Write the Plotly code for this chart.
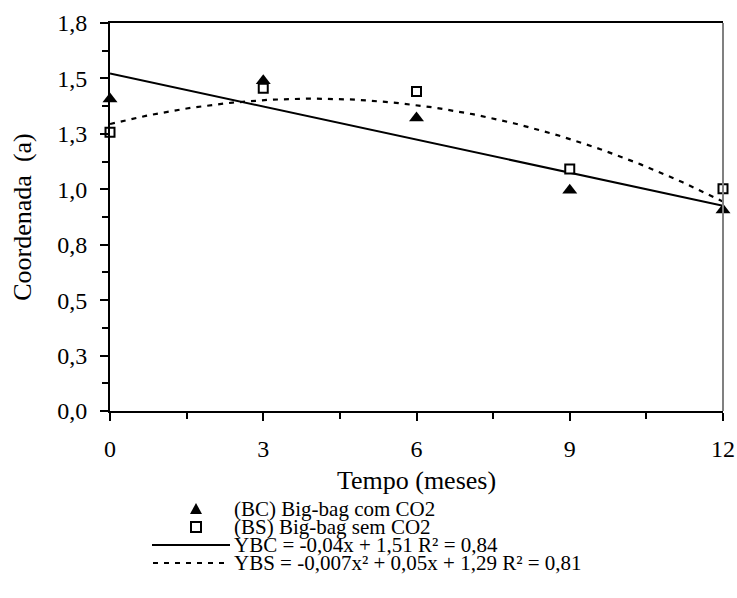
import numpy as np
import plotly.graph_objects as go

# ---- data ----
months = [0, 3, 6, 9, 12]
bc_values = [1.407, 1.489, 1.321, 0.996, 0.907]   # (BC) Big-bag com CO2
bs_values = [1.257, 1.456, 1.441, 1.091, 1.002]   # (BS) Big-bag sem CO2

x_ticks = [0, 3, 6, 9, 12]
x_tick_labels = ["0", "3", "6", "9", "12"]
y_ticks = [0, 0.25, 0.5, 0.75, 1.0, 1.25, 1.5, 1.75]
y_tick_labels = ["0,0", "0,3", "0,5", "0,8", "1,0", "1,3", "1,5", "1,8"]

legend_labels = [
    "(BC) Big-bag com CO2",
    "(BS) Big-bag sem CO2",
    "YBC = -0,04x + 1,51 R² = 0,84",
    "YBS = -0,007x² + 0,05x + 1,29 R² = 0,81",
]
x_title = "Tempo (meses)"
y_title = "Coordenada\u00a0 (a)"

# ---- trend lines fitted to the data ----
bc_fit = np.polyfit(months, bc_values, 1)
bs_fit = np.polyfit(months, bs_values, 2)
x_fine = np.linspace(min(months), max(months), 121)

FONT = "'Liberation Serif', 'Times New Roman', Tinos, 'DejaVu Serif', serif"

fig = go.Figure()
fig.add_trace(go.Scatter(x=x_fine, y=np.polyval(bc_fit, x_fine), mode="lines",
                         line=dict(color="black", width=2), name=legend_labels[2],
                         showlegend=False, cliponaxis=False))
fig.add_trace(go.Scatter(x=x_fine, y=np.polyval(bs_fit, x_fine), mode="lines",
                         line=dict(color="black", width=2.2, dash="5px,6px"),
                         name=legend_labels[3], showlegend=False, cliponaxis=False))
fig.add_trace(go.Scatter(x=months, y=bs_values, mode="markers", name=legend_labels[1],
                         marker=dict(symbol="square", size=9, color="white",
                                     line=dict(color="black", width=2)),
                         showlegend=False, cliponaxis=False))
fig.add_trace(go.Scatter(x=months, y=bc_values, mode="markers", name=legend_labels[0],
                         marker=dict(symbol="triangle-up", size=13, color="black",
                                     line=dict(width=0)),
                         showlegend=False, cliponaxis=False))

# ---- layout geometry (pixels) ----
W, H = 737, 598
ML, MR, MT, MB = 110, 14, 23, 187
PW, PH = W - ML - MR, H - MT - MB


def px_x(px):
    return (px - ML) / PW


def px_y(py):
    return (H - MB - py) / PH


shapes = [
    # right frame line (grey)
    dict(type="line", xref="paper", yref="paper", x0=1, x1=1, y0=0, y1=1,
         line=dict(color="#808080", width=2)),
]

# legend (drawn manually below the chart)
leg_rows = [509, 527, 545, 563]
sample_cx = 196
text_x = 232
annotations = []
for lbl, ry in zip(legend_labels, leg_rows):
    annotations.append(dict(x=px_x(text_x), y=px_y(ry), xref="paper", yref="paper",
                            text=lbl, showarrow=False, xanchor="left", yanchor="middle",
                            font=dict(family=FONT, size=21, color="black")))

# triangle sample
shapes.append(dict(type="path", xref="paper", yref="paper",
                   xsizemode="pixel", ysizemode="pixel",
                   xanchor=px_x(sample_cx), yanchor=px_y(leg_rows[0]),
                   path="M-6,-5 L6,-5 L0,6 Z", fillcolor="black",
                   line=dict(width=0)))
# square sample
shapes.append(dict(type="rect", xref="paper", yref="paper",
                   xsizemode="pixel", ysizemode="pixel",
                   xanchor=px_x(sample_cx), yanchor=px_y(leg_rows[1]),
                   x0=-5, x1=5, y0=-5, y1=5, fillcolor="white",
                   line=dict(color="black", width=2)))
# solid line sample
shapes.append(dict(type="line", xref="paper", yref="paper",
                   x0=px_x(152), x1=px_x(230), y0=px_y(leg_rows[2]), y1=px_y(leg_rows[2]),
                   line=dict(color="black", width=2)))
# dashed line sample
shapes.append(dict(type="line", xref="paper", yref="paper",
                   x0=px_x(153), x1=px_x(228), y0=px_y(leg_rows[3]), y1=px_y(leg_rows[3]),
                   line=dict(color="black", width=2, dash="5px,6px")))

fig.update_layout(
    width=W, height=H, autosize=False,
    margin=dict(l=ML, r=MR, t=MT, b=MB, pad=0),
    paper_bgcolor="white", plot_bgcolor="white",
    font=dict(family=FONT, color="black"),
    showlegend=False,
    shapes=shapes,
    annotations=annotations,
    xaxis=dict(
        range=[0, 12], tickvals=x_ticks, ticktext=x_tick_labels,
        showgrid=False, zeroline=False,
        showline=True, linecolor="black", linewidth=2, mirror=True,
        ticks="outside", ticklen=8, tickwidth=1.5, tickcolor="black",
        ticklabelstandoff=7,
        tickfont=dict(family=FONT, size=24, color="black"),
        minor=dict(dtick=1.5, tick0=0, ticks="outside", ticklen=6,
                   tickwidth=1.5, tickcolor="black", showgrid=False),
        title=dict(text=x_title, font=dict(family=FONT, size=26, color="black"),
                   standoff=10),
        automargin=False,
    ),
    yaxis=dict(
        range=[0, 1.75], tickvals=y_ticks, ticktext=y_tick_labels,
        showgrid=False, zeroline=False,
        showline=True, linecolor="black", linewidth=2,
        ticks="outside", ticklen=8, tickwidth=1.5, tickcolor="black",
        ticklabelstandoff=8,
        tickfont=dict(family=FONT, size=24, color="black"),
        minor=dict(tickvals=[0.125 + 0.25 * i for i in range(7)], ticks="outside",
                   ticklen=6, tickwidth=1.5, tickcolor="black", showgrid=False),
        title=dict(text=y_title, font=dict(family=FONT, size=26, color="black"),
                   standoff=18),
        automargin=False,
    ),
)

fig.write_html("out.html")
